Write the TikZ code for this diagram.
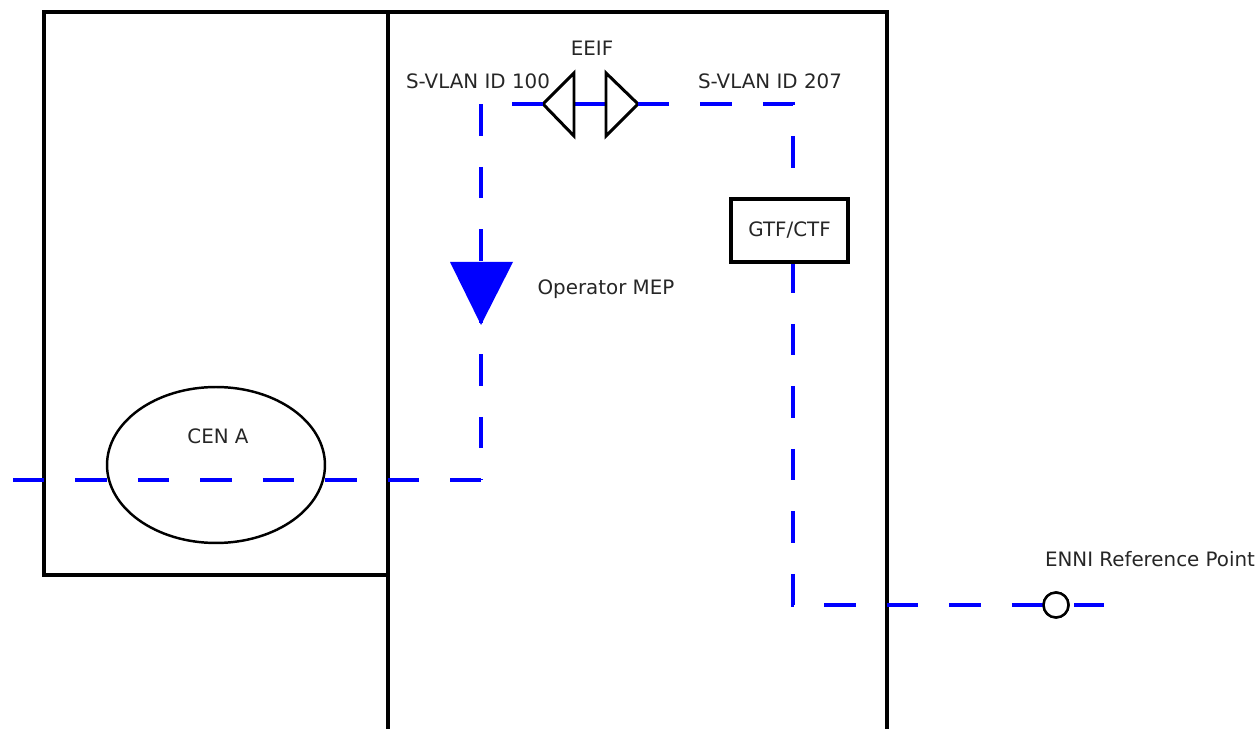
\documentclass[tikz,border=0pt]{standalone}
\usepackage{fontspec}
\setmainfont{DejaVu Sans}
\usetikzlibrary{shapes.geometric}

\begin{document}
\begin{tikzpicture}[x=0.02cm, y=-0.02cm,
        wall/.style={draw, line width=2.3pt},
        link/.style={blue, line width=1.9pt, dash pattern=on 0.625cm off 0.625cm},
        lbl/.style={text=black!85, font=\fontsize{11.3}{13}\selectfont, inner sep=0pt}]
        \useasboundingbox (0,0) rectangle (1259,729);

        % DOMINI
        \draw[wall] (44,12) rectangle (388,575);
        \draw[wall] (388,729) -- (388,12) -- (887,12) -- (887,729);

        % CEN A
        \node[ellipse, draw, line width=1.4pt, minimum width=4.36cm, minimum height=3.12cm, inner sep=0pt] (cenA) at (216,465) {};
        \node[lbl] (cenAlbl) at (218,436) {CEN A};

        % EEIF
        \coordinate (eeifL) at (543,104);
        \coordinate (eeifLb) at (574,104);
        \coordinate (eeifRb) at (606,104);
        \coordinate (eeifR) at (638,104);
        \draw[blue, line width=1.9pt] (eeifLb) -- (eeifRb);
        \draw[line width=1.7pt] (eeifL) -- (574,73) -- (574,136) -- cycle;
        \draw[line width=1.7pt] (eeifR) -- (606,73) -- (606,136) -- cycle;
        \node[lbl] (eeif) at (592,48) {EEIF};

        % PERCORSI S-VLAN
        \coordinate (west) at (13,480);
        \coordinate (c1) at (481,480);
        \coordinate (c3) at (793,605);
        \coordinate (east) at (1104,605);
        \node[circle, draw, line width=1.4pt, fill=white, minimum size=0.5cm, inner sep=0pt] (enni) at (1056,605) {};
        \draw[link] (west) -- (c1);
        \draw[link] (eeifL) -| (c1);
        \draw[link] (eeifR) -| (c3) -- (enni.center) -- (east);
        \node[circle, draw, line width=1.4pt, fill=white, minimum size=0.5cm, inner sep=0pt] at (enni) {};

        % OPERATOR MEP
        \coordinate (mep) at (481,325);
        \fill[blue] (450,262) -- (513,262) -- (mep) -- cycle;
        \node[lbl] (meplbl) at (606,289) {Operator MEP};

        % GTF/CTF
        \node[wall, lbl, fill=white, minimum width=2.34cm, minimum height=1.26cm] (gtf) at (789.5,230.5) {GTF/CTF};

        % ETICHETTE
        \node[lbl] (vlan1) at (478,81) {S-VLAN ID 100};
        \node[lbl] (vlan2) at (770,81) {S-VLAN ID 207};
        \node[lbl] (ennilbl) at (1150,559) {ENNI Reference Point};
    \end{tikzpicture}
\end{document}
